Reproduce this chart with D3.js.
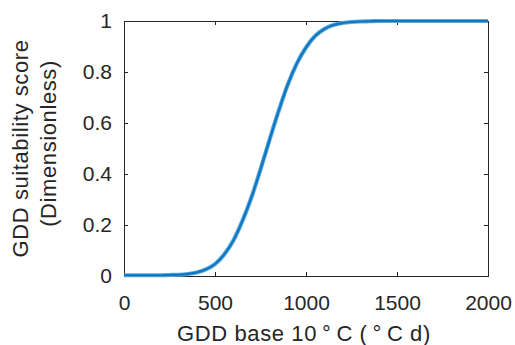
<!DOCTYPE html>
<html>
<head>
<meta charset="utf-8">
<script src="https://cdn.jsdelivr.net/npm/d3@7"></script>
<style>
  html, body { margin: 0; padding: 0; background: #fff; }
  svg { display: block; }
  text { font-family: "Liberation Sans", Arial, Helvetica, sans-serif; fill: #262626; }
</style>
</head>
<body>
<svg id="chart" width="515" height="345"></svg>
<script>
// Data
const gdd = [0, 50, 100, 150, 200, 250, 300, 350, 400, 450, 500, 550, 600, 650, 700, 750,
             800, 850, 900, 950, 1000, 1050, 1100, 1150, 1200, 1250, 1300, 1350, 1400,
             1450, 1500, 1600, 1700, 1800, 1900, 2000];
const score = [0.003, 0.003, 0.003, 0.003, 0.003, 0.004, 0.005, 0.008, 0.014, 0.026, 0.047,
               0.084, 0.138, 0.215, 0.308, 0.418, 0.535, 0.648, 0.751, 0.834, 0.896, 0.941,
               0.968, 0.984, 0.992, 0.996, 0.998, 0.999, 1.0, 1.0, 1.0, 1.0, 1.0, 1.0, 1.0, 1.0];
const xTicks = [0, 500, 1000, 1500, 2000];
const xTickLabels = ["0", "500", "1000", "1500", "2000"];
const yTicks = [0, 0.2, 0.4, 0.6, 0.8, 1];
const yTickLabels = ["0", "0.2", "0.4", "0.6", "0.8", "1"];
const xLabel = "GDD base 10\u2009°\u2009C (\u2009°\u2009C d)";
const yLabelLines = ["GDD suitability score", "(Dimensionless)"];

const svg = d3.select("#chart");
const mLeft = 124, mRight = 488, mTop = 21, mBottom = 276;

const x = d3.scaleLinear().domain([0, 2000]).range([mLeft, mRight]);
const y = d3.scaleLinear().domain([0, 1]).range([mBottom, mTop]);

const axisColor = "#262626";
const tickLen = 4;
const tickFont = "'Liberation Sans', Arial, sans-serif";

// Box
svg.append("rect")
  .attr("x", mLeft).attr("y", mTop)
  .attr("width", mRight - mLeft).attr("height", mBottom - mTop)
  .attr("fill", "none").attr("stroke", axisColor).attr("stroke-width", 1)
  .attr("shape-rendering", "crispEdges");

// Axes via d3 (inward ticks)
const xAxis = d3.axisBottom(x).tickValues(xTicks).tickSizeInner(-tickLen).tickSizeOuter(0).tickPadding(12)
  .tickFormat((d, i) => xTickLabels[i]);
const gx = svg.append("g").attr("transform", `translate(0,${mBottom})`).call(xAxis);
gx.select(".domain").remove();
gx.selectAll("line").attr("stroke", axisColor);
gx.selectAll("text").attr("font-size", 21).attr("fill", axisColor).attr("dy", "1.05em")
  .style("font-family", tickFont);

const xAxisTop = d3.axisTop(x).tickValues(xTicks).tickSizeInner(-tickLen).tickSizeOuter(0).tickFormat("");
const gxt = svg.append("g").attr("transform", `translate(0,${mTop})`).call(xAxisTop);
gxt.select(".domain").remove();
gxt.selectAll("line").attr("stroke", axisColor);

const yAxis = d3.axisLeft(y).tickValues(yTicks).tickSizeInner(-tickLen).tickSizeOuter(0).tickPadding(12)
  .tickFormat((d, i) => yTickLabels[i]);
const gy = svg.append("g").attr("transform", `translate(${mLeft},0)`).call(yAxis);
gy.select(".domain").remove();
gy.selectAll("line").attr("stroke", axisColor);
gy.selectAll("text").attr("font-size", 21).attr("fill", axisColor)
  .style("font-family", tickFont);

const yAxisRight = d3.axisRight(y).tickValues(yTicks).tickSizeInner(-tickLen).tickSizeOuter(0).tickFormat("");
const gyr = svg.append("g").attr("transform", `translate(${mRight},0)`).call(yAxisRight);
gyr.select(".domain").remove();
gyr.selectAll("line").attr("stroke", axisColor);

// Curve
const line = d3.line().x((d, i) => x(gdd[i])).y(d => y(d)).curve(d3.curveMonotoneX);
svg.append("path").datum(score)
  .attr("d", line).attr("fill", "none")
  .attr("stroke", "#5aa8de").attr("stroke-width", 4.2)
  .attr("stroke-linejoin", "round").attr("stroke-linecap", "butt");
svg.append("path").datum(score)
  .attr("d", line).attr("fill", "none")
  .attr("stroke", "#0f76c0").attr("stroke-width", 2.2)
  .attr("stroke-linejoin", "round").attr("stroke-linecap", "butt");

// X label
svg.append("text")
  .attr("x", (mLeft + mRight) / 2 - 2).attr("y", 341)
  .attr("text-anchor", "middle").attr("font-size", 22)
  .attr("letter-spacing", 0.6)
  .text(xLabel);

// Y label (two lines, rotated)
const yl = svg.append("text")
  .attr("transform", `translate(0,${(mTop + mBottom) / 2}) rotate(-90)`)
  .attr("text-anchor", "middle").attr("font-size", 22).attr("letter-spacing", 0.6);
yl.append("tspan").attr("x", 0).attr("y", 28).text(yLabelLines[0]);
yl.append("tspan").attr("x", 5).attr("y", 56).text(yLabelLines[1]);
</script>
</body>
</html>
